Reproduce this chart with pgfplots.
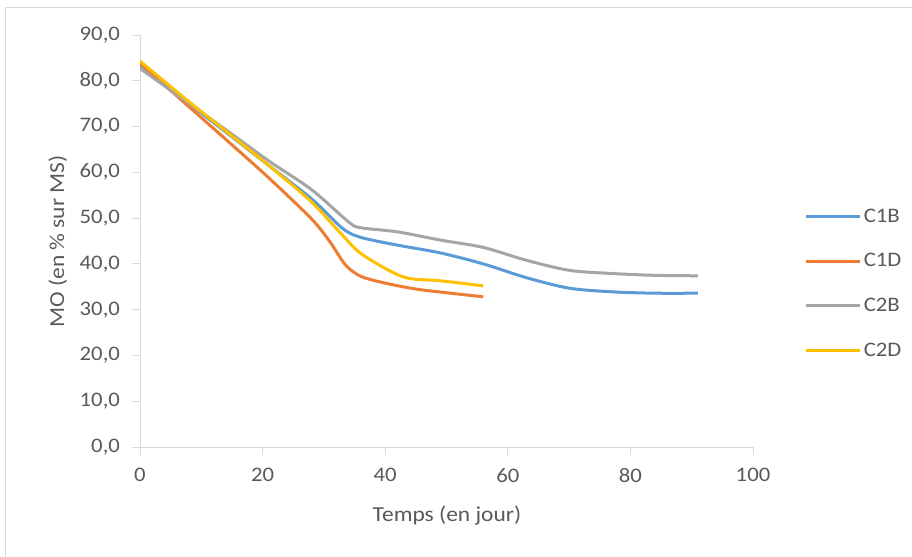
\documentclass[border=0pt]{standalone}
\usepackage{pgfplots}
\pgfplotsset{compat=1.18}
\usepackage{fontspec}
\setmainfont{Carlito}[FakeStretch=1.1]
\definecolor{c1b}{HTML}{5B9BD5}
\definecolor{c1d}{HTML}{ED7D31}
\definecolor{c2b}{HTML}{A5A5A5}
\definecolor{c2d}{HTML}{FFC000}
\definecolor{axgray}{HTML}{D9D9D9}
\definecolor{txt}{HTML}{595959}
\begin{document}
\begin{tikzpicture}
\useasboundingbox (0,0) rectangle (684pt,417pt);
\draw[axgray, line width=0.75pt] (3.75pt,-5pt) -- (3.75pt,411pt) -- (700pt,411pt);
\begin{axis}[
  at={(105pt,81.75pt)}, anchor=south west,
  scale only axis, width=459.75pt, height=309pt,
  xmin=0, xmax=100, ymin=0, ymax=90,
  axis lines*=left,
  axis line style={axgray, line width=0.75pt},
  xtick={0,20,...,100}, ytick={0,10,...,90},
  tick align=outside, major tick length=6pt,
  tick style={axgray, line width=0.75pt},
  ticklabel style={font=\fontsize{15.5}{18}\selectfont, text=txt},
  xticklabel style={yshift=-6.5pt},
  yticklabel style={xshift=-5.5pt},
  /pgf/number format/assume math mode=true,
  yticklabel={\pgfmathprintnumber[fixed,fixed zerofill,precision=1,use comma,assume math mode=true]{\tick}},
  xlabel={Temps (en jour)},
  ylabel={MO (en \% sur MS)},
  label style={font=\fontsize{16}{19}\selectfont, text=txt},
  xlabel style={at={(axis description cs:0.5008,-0.1675)}, anchor=center},
  ylabel style={at={(axis description cs:-0.134,0.499)}, anchor=center},
  legend style={at={(axis description cs:1.084,0.397)}, anchor=west, draw=none, fill=none,
    font=\fontsize{15.5}{18}\selectfont, text=txt, inner sep=0pt, row sep=18pt,
    /tikz/every even column/.append style={column sep=3pt}},
  legend cell align=left,
  legend image code/.code={\draw[#1, line width=2.25pt] (0pt,0pt) -- (40pt,0pt);},
  every axis plot/.append style={line width=2.25pt, smooth, tension=0.5},
]
\addplot[c1b] coordinates {(0,83.2) (7,76) (14,68.8) (21,61.5) (28,54.2) (33,47.8) (36,45.8) (42,44.1) (49,42.4) (56,40) (63,37) (70,34.7) (77,33.9) (84,33.6) (91,33.6)};
\addlegendentry{C1B}
\addplot[c1d] coordinates {(0,83.8) (7,75.5) (14,67.2) (21,58.8) (28,49.8) (31,44.8) (33.5,39.8) (36,37.3) (40,35.8) (45,34.5) (50,33.7) (56,32.8)};
\addlegendentry{C1D}
\addplot[c2b] coordinates {(0,82.7) (7,76) (14,69.3) (21,62.5) (28,56.2) (34,49.2) (36,47.9) (42,47) (49,45.2) (56,43.6) (63,40.8) (70,38.6) (77,37.9) (84,37.5) (91,37.4)};
\addlegendentry{C2B}
\addplot[c2d] coordinates {(0,84.3) (7,76.5) (14,69) (21,61.5) (28,53.5) (33,46.3) (36,42.3) (41,38.3) (44,36.8) (49,36.3) (56,35.2)};
\addlegendentry{C2D}
\end{axis}
\end{tikzpicture}
\end{document}
